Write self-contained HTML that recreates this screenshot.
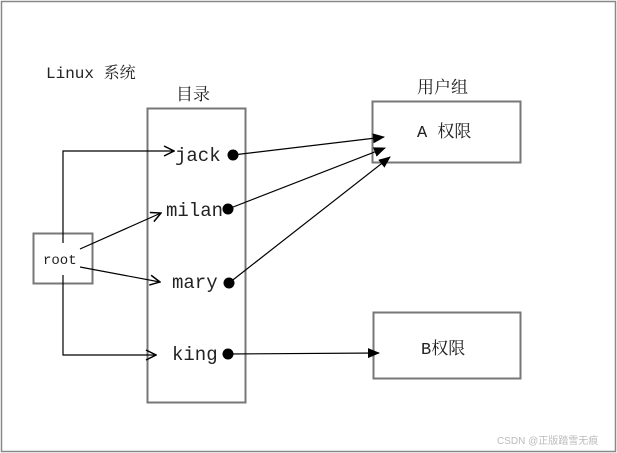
<!DOCTYPE html>
<html><head><meta charset="utf-8"><style>
html,body{margin:0;padding:0;background:#fff;}
svg{display:block;}
text{font-family:"Liberation Mono","Noto Serif CJK SC",monospace;fill:#222;}
</style></head><body>
<svg width="617" height="453" viewBox="0 0 617 453" xmlns="http://www.w3.org/2000/svg">
<defs>
<marker id="f" markerWidth="12" markerHeight="10" refX="11" refY="5" orient="auto" markerUnits="userSpaceOnUse"><path d="M0,0 L12,5 L0,10 Z" fill="#000"/></marker>
<marker id="o" markerWidth="12" markerHeight="12" refX="11" refY="6" orient="auto" markerUnits="userSpaceOnUse"><path d="M1,1 L11,6 L1,11" fill="none" stroke="#000" stroke-width="1.5"/></marker>
</defs>
<rect x="1.5" y="1.5" width="614" height="450" fill="#fff" stroke="#888" stroke-width="1.5"/>
<text x="46" y="78" font-size="16">Linux 系统</text>
<text x="176" y="100" font-size="17">目录</text>
<text x="417" y="93" font-size="17">用户组</text>
<rect x="147.5" y="108.5" width="98" height="294" fill="none" stroke="#777" stroke-width="2"/>
<rect x="33.5" y="233.5" width="59" height="50" fill="none" stroke="#777" stroke-width="2"/>
<rect x="372.5" y="101.5" width="148" height="61" fill="none" stroke="#777" stroke-width="2"/>
<rect x="373.5" y="312.5" width="147" height="66" fill="none" stroke="#777" stroke-width="2"/>
<text x="43" y="264" font-size="14">root</text>
<text x="175" y="161" font-size="19">jack</text>
<text x="166" y="216" font-size="19">milan</text>
<text x="172" y="288" font-size="19">mary</text>
<text x="172" y="360" font-size="19">king</text>
<text x="417" y="137" font-size="17">A 权限</text>
<text x="421" y="354" font-size="17">B权限</text>
<circle cx="233" cy="155" r="5.5" fill="#000"/>
<circle cx="228" cy="209" r="5.5" fill="#000"/>
<circle cx="229" cy="283" r="5.5" fill="#000"/>
<circle cx="228" cy="354" r="5.5" fill="#000"/>
<g stroke="#000" stroke-width="1.2" fill="none">
<polyline points="63,243 63,151 174,151" marker-end="url(#o)"/>
<line x1="80" y1="249" x2="161" y2="213" marker-end="url(#o)"/>
<line x1="80" y1="267" x2="160" y2="282" marker-end="url(#o)"/>
<polyline points="63,275 63,355 156,355" marker-end="url(#o)"/>
<line x1="233" y1="155" x2="384" y2="137" marker-end="url(#f)"/>
<line x1="228" y1="209" x2="385" y2="148" marker-end="url(#f)"/>
<line x1="229" y1="283" x2="390" y2="157" marker-end="url(#f)"/>
<line x1="228" y1="354" x2="379" y2="353" marker-end="url(#f)"/>
</g>
<text x="497" y="444" font-size="10" style="fill:#bbb;font-family:'Liberation Sans','Noto Sans CJK SC',sans-serif">CSDN @正版踏雪无痕</text>
</svg>
</body></html>
